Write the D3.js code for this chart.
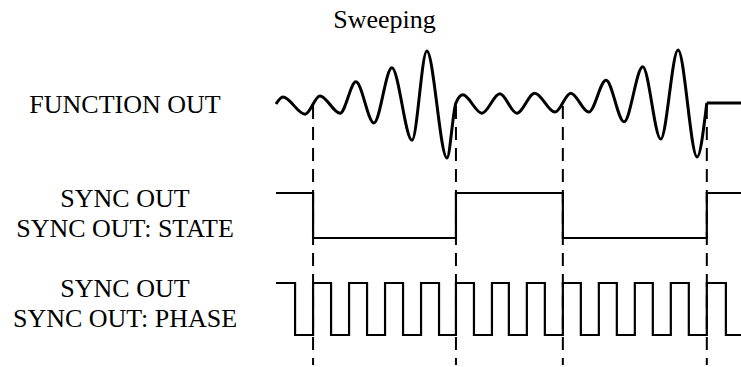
<!DOCTYPE html>
<html>
<head>
<meta charset="utf-8">
<script src="https://cdn.jsdelivr.net/npm/d3@7"></script>
<style>
  body { margin: 0; background: #fff; }
</style>
</head>
<body>
<svg id="chart" width="741" height="367"></svg>
<script>
// time in tenths of a carrier cycle
var markerTimes = [10.3, 50, 79.7, 119.7];

// function out: extrema of the swept waveform, normalised amplitude
var funcTimes = [0, 1.9, 8.1, 12.2, 17.8, 22.2, 27.2, 32.2, 37.8, 41.9, 47.5, 50, 51.9, 57.2, 62.2, 66.9, 71.9, 77.5, 81.9, 86.9, 91.7, 96.7, 101.9, 106.9, 111.7, 117, 119.7];
var funcValues = [0, 0.13, -0.19, 0.15, -0.17, 0.41, -0.35, 0.67, -0.67, 0.98, -1, 0.02, 0.17, -0.17, 0.19, -0.17, 0.2, -0.15, 0.2, -0.15, 0.44, -0.33, 0.69, -0.65, 1, -0.98, 0.02];
var funcHoldTimes = [119.7, 129.2];
var funcHoldValues = [0.02, 0.02];

// sync out: state
var stateTimes = [0, 10.3, 50, 79.7, 119.7, 129.2];
var stateLevels = [1, 0, 1, 0, 1, 1];

// sync out: phase
var phaseTimes = [0, 5.3, 10.3, 15.3, 20.3, 25.3, 30.3, 35.3, 40.3, 45.3, 50, 55, 60, 64.7, 69.7, 74.7, 79.7, 84.7, 89.7, 94.7, 99.7, 104.7, 109.7, 114.7, 119.7, 125, 129.2];
var phaseLevels = [1, 0, 1, 0, 1, 0, 1, 0, 1, 0, 1, 0, 1, 0, 1, 0, 1, 0, 1, 0, 1, 0, 1, 0, 1, 0, 0];

var titleText = "Sweeping";
var rowLabels = [["FUNCTION OUT"], ["SYNC OUT", "SYNC OUT: STATE"], ["SYNC OUT", "SYNC OUT: PHASE"]];

var svg = d3.select("#chart");

var x = d3.scaleLinear().domain([0, 129.2]).range([276, 741]);
var yFunc = d3.scaleLinear().domain([-1, 1]).range([158, 50]);
var yState = d3.scaleLinear().domain([0, 1]).range([238, 193]);
var yPhase = d3.scaleLinear().domain([0, 1]).range([335, 283]);

function pairs(ts, vs) {
  return ts.map(function(t, i) { return [t, vs[i]]; });
}

// dashed markers first so the traces sit on top
svg.selectAll(".marker")
    .data(markerTimes)
  .enter().append("line")
    .attr("class", "marker")
    .attr("x1", function(d) { return x(d); })
    .attr("x2", function(d) { return x(d); })
    .attr("y1", 106)
    .attr("y2", 365)
    .attr("stroke", "#000")
    .attr("stroke-width", 2)
    .attr("stroke-dasharray", "13,8");

var waveLine = d3.line()
    .x(function(d) { return x(d[0]); })
    .y(function(d) { return yFunc(d[1]); })
    .curve(d3.curveMonotoneX);

svg.append("path")
    .attr("d", waveLine(pairs(funcTimes, funcValues)))
    .attr("fill", "none")
    .attr("stroke", "#000")
    .attr("stroke-width", 3)
    .attr("stroke-linejoin", "round");

svg.append("path")
    .attr("d", waveLine.curve(d3.curveLinear)(pairs(funcHoldTimes, funcHoldValues)))
    .attr("fill", "none")
    .attr("stroke", "#000")
    .attr("stroke-width", 3);

var stateLine = d3.line()
    .x(function(d) { return x(d[0]); })
    .y(function(d) { return yState(d[1]); })
    .curve(d3.curveStepAfter);

svg.append("path")
    .attr("d", stateLine(pairs(stateTimes, stateLevels)))
    .attr("fill", "none")
    .attr("stroke", "#000")
    .attr("stroke-width", 2.2);

var phaseLine = d3.line()
    .x(function(d) { return x(d[0]); })
    .y(function(d) { return yPhase(d[1]); })
    .curve(d3.curveStepAfter);

svg.append("path")
    .attr("d", phaseLine(pairs(phaseTimes, phaseLevels)))
    .attr("fill", "none")
    .attr("stroke", "#000")
    .attr("stroke-width", 2.2);

// labels
svg.append("text")
    .attr("x", 384.5)
    .attr("y", 28)
    .attr("text-anchor", "middle")
    .style("font-family", "\"Liberation Serif\", serif")
    .style("font-size", "26px")
    .style("fill", "#000")
    .text(titleText);

var labelBaselines = [113, 206.5, 296.5];

rowLabels.forEach(function(lines, i) {
  var t = svg.append("text")
      .attr("text-anchor", "middle")
      .style("font-family", "\"Liberation Serif\", serif")
      .style("font-size", "26px")
      .style("fill", "#000");
  lines.forEach(function(s, j) {
    t.append("tspan")
        .attr("x", 125)
        .attr("y", labelBaselines[i] + j * 30)
        .text(s);
  });
});
</script>
</body>
</html>
